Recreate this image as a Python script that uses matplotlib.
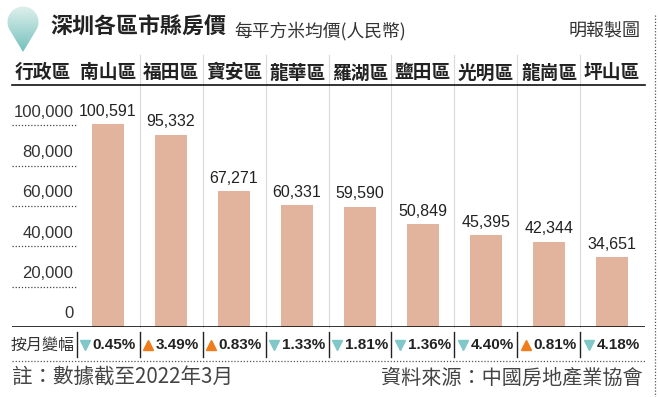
import numpy as np
import matplotlib.pyplot as plt
from matplotlib.path import Path
from matplotlib.patches import PathPatch
from matplotlib.lines import Line2D
from matplotlib.colors import LinearSegmentedColormap

plt.rcParams['font.family'] = ['Noto Sans CJK TC', 'DejaVu Sans']

# data
districts = ["南山區", "福田區", "寶安區", "龍華區", "羅湖區", "鹽田區", "光明區", "龍崗區", "坪山區"]
prices = [100591, 95332, 67271, 60331, 59590, 50849, 45395, 42344, 34651]
mom_change = [-0.45, 3.49, 0.83, -1.33, -1.81, -1.36, -4.40, 0.81, -4.18]
yticks = [0, 20000, 40000, 60000, 80000, 100000]

W, H = 658, 397
BAR = "#e3b49d"
TEAL = "#7fc7c8"
ORANGE = "#ef7d1b"
NUM = ['Liberation Sans', 'DejaVu Sans']

fig = plt.figure(figsize=(W / 100, H / 100), dpi=100)

def fx(px):
    return px / W

def fy(py):
    return 1 - py / H

# main axes: baseline at y=327px, top (header line) at y=85px
ax = fig.add_axes([fx(12), fy(327), fx(633), 242 / H])
ax.set_xlim(-1.524, 8.524)
ax.set_ylim(0, 120000)
ax.axis("off")
xt = ax.get_xaxis_transform()

x = np.arange(len(districts))
ax.bar(x, prices, width=0.51, color=BAR, zorder=2)

# value labels
for xi, v in zip(x, prices):
    ax.annotate(f"{v:,}", (xi, v), xytext=(0, 4), textcoords="offset points",
                ha="center", va="bottom", fontsize=11.5, color="#222",
                family=NUM)

# y tick labels with short dotted underlines
for t in yticks:
    ax.annotate(f"{t:,}", (-0.55, t), xytext=(0, 4), textcoords="offset points",
                ha="right", va="bottom", fontsize=12, color="#333", family=NUM)
ax.hlines([t for t in yticks if t > 0], -1.524, -0.5, colors="#444",
          linestyles=(0, (1, 1.5)), linewidth=0.9)

# baseline and header line
ax.axhline(0, color="#111", linewidth=1.2, zorder=3)
ax.plot([0, 1], [1, 1], transform=ax.transAxes, color="#111", linewidth=1.2,
        clip_on=False)

# light separators through header and plot
for b in x[:-1] + 0.5:
    ax.plot([b, b], [0, 1.125], transform=xt, color="#d9d9d9", linewidth=0.8,
            clip_on=False, zorder=1)

# header row
ax.text(-1.04, 1.05, "行政區", transform=xt, ha="center", va="center",
        fontsize=13.5, fontweight="bold", color="#222")
for xi, name in zip(x, districts):
    ax.text(xi, 1.05, name, transform=xt, ha="center", va="center",
            fontsize=13.5, fontweight="bold", color="#222")

# month-on-month change row
row_y = -0.075
ax.text(-1.04, row_y, "按月變幅", transform=xt, ha="center", va="center",
        fontsize=11.5, color="#333")
for b in np.arange(-1, len(districts) - 1) + 0.5:
    ax.plot([b, b], [-0.02, -0.125], transform=xt, color="#222",
            linewidth=1.0, clip_on=False)
for xi, c in zip(x, mom_change):
    up = c > 0
    ax.plot(xi - 0.37, row_y, marker="^" if up else "v", markersize=7.5,
            color=ORANGE if up else TEAL, transform=xt, clip_on=False,
            linestyle="none")
    ax.text(xi + 0.1, row_y, f"{abs(c):.2f}%", transform=xt, ha="center",
            va="center", fontsize=11, fontweight="bold", color="#222",
            family=NUM)

# dotted rules
fig.add_artist(Line2D([fx(12), fx(645)], [fy(361), fy(361)], color="#555",
                      linewidth=0.9, linestyle=(0, (1, 1.5))))
fig.add_artist(Line2D([fx(655), fx(655)], [fy(15), fy(397)], color="#555",
                      linewidth=0.9, linestyle=(0, (1, 1.5))))

# title area
fig.text(fx(50), fy(27), "深圳各區市縣房價", ha="left", va="center",
         fontsize=15.8, fontweight="black", color="#222")
fig.text(fx(234), fy(31), "每平方米均價(人民幣)", ha="left", va="center",
         fontsize=12.8, color="#333")
fig.text(fx(641), fy(31), "明報製圖", ha="right", va="center",
         fontsize=13, color="#333")

# footer notes
fig.text(fx(12), fy(378), "註：數據截至2022年3月", ha="left", va="center",
         fontsize=14.8, color="#444")
fig.text(fx(643), fy(378), "資料來源：中國房地產業協會", ha="right", va="center",
         fontsize=14.5, color="#444")

# teardrop icon with gradient
iax = fig.add_axes([fx(6), fy(54), fx(34), 50 / H])
iax.set_xlim(0, 34)
iax.set_ylim(0, 50)
iax.axis("off")
th = np.linspace(np.radians(-35), np.radians(215), 60)
cx, cy, r = 17, 32, 15.5
verts = [(cx, 2)] + [(cx + r * np.cos(a), cy + r * np.sin(a)) for a in th] + [(cx, 2)]
codes = [Path.MOVETO] + [Path.LINETO] * (len(verts) - 2) + [Path.CLOSEPOLY]
drop = PathPatch(Path(verts, codes), facecolor="none", edgecolor="none")
iax.add_patch(drop)
cmap = LinearSegmentedColormap.from_list("drop", ["#6fbfba", "#e4f2ef"])
im = iax.imshow(np.linspace(0, 1, 100).reshape(-1, 1), extent=(0, 34, 0, 50),
                cmap=cmap, aspect="auto", origin="lower")
im.set_clip_path(drop)

fig.savefig("out.png", dpi=100)
